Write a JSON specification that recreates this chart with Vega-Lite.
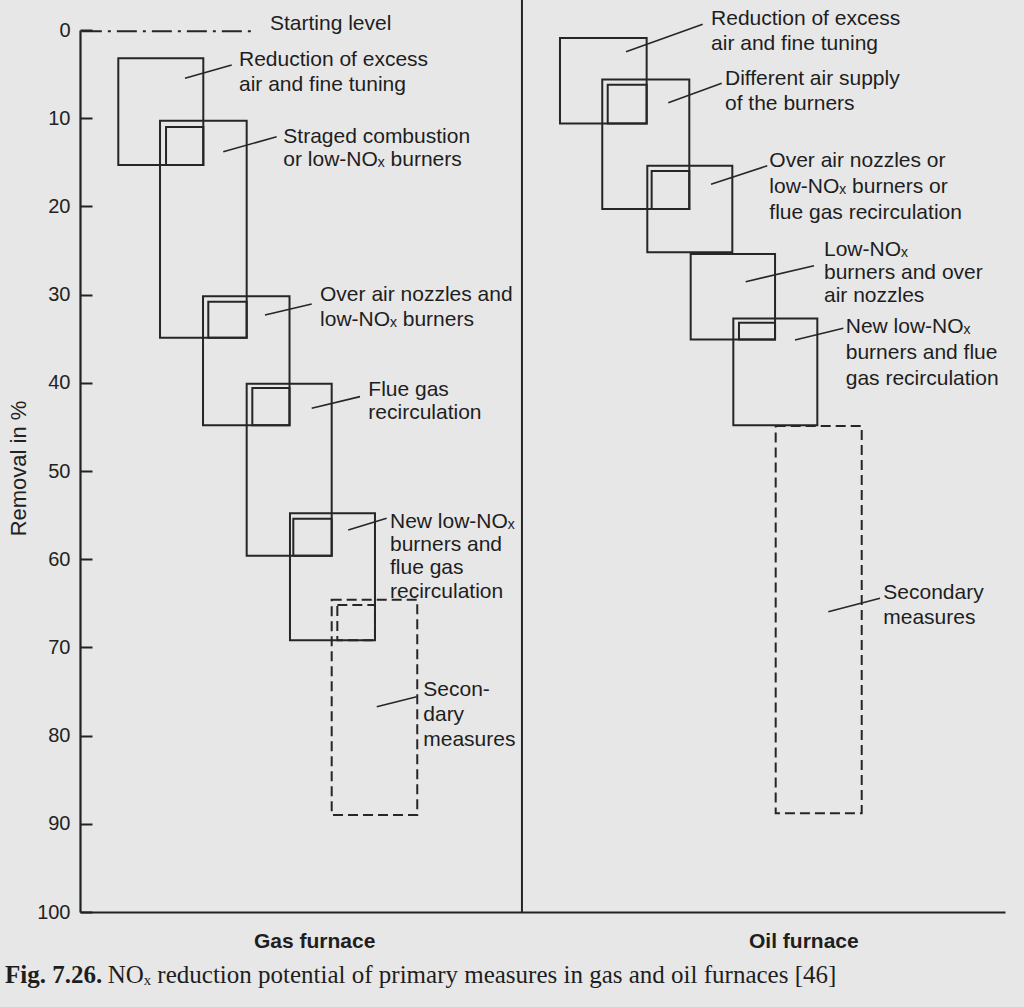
{
  "$schema": "https://vega.github.io/schema/vega-lite/v6.json",
  "autosize": {"type": "none"},
  "width": 925,
  "height": 882,
  "padding": {"left": 80, "top": 30, "right": 19, "bottom": 95},
  "background": "#e7e7e7",
  "config": {
    "view": {"stroke": null},
    "font": "Liberation Sans",
    "axis": {"grid": false, "domainColor": "#222222", "domainWidth": 2.2, "tickColor": "#222222", "tickWidth": 2, "labelColor": "#222222", "titleColor": "#222222", "labelFont": "Liberation Sans", "titleFont": "Liberation Sans"}
  },
  "datasets": {
    "boxes": [
      {"furnace": "Gas", "measure": "Reduction of excess air and fine tuning", "line": "solid", "x": 4.14, "x2": 13.33, "y": 3.2, "y2": 15.3},
      {"furnace": "Gas", "measure": "Straged combustion or low-NOx burners", "line": "solid", "x": 8.65, "x2": 18.02, "y": 10.3, "y2": 34.9},
      {"furnace": "Gas", "measure": "Straged combustion (overlap)", "line": "solid", "x": 9.3, "x2": 13.33, "y": 11.0, "y2": 15.3},
      {"furnace": "Gas", "measure": "Over air nozzles and low-NOx burners", "line": "solid", "x": 13.3, "x2": 22.65, "y": 30.2, "y2": 44.8},
      {"furnace": "Gas", "measure": "Over air nozzles (overlap)", "line": "solid", "x": 13.87, "x2": 18.02, "y": 30.8, "y2": 34.9},
      {"furnace": "Gas", "measure": "Flue gas recirculation", "line": "solid", "x": 18.02, "x2": 27.21, "y": 40.1, "y2": 59.6},
      {"furnace": "Gas", "measure": "Flue gas recirculation (overlap)", "line": "solid", "x": 18.63, "x2": 22.65, "y": 40.6, "y2": 44.8},
      {"furnace": "Gas", "measure": "New low-NOx burners and flue gas recirculation", "line": "solid", "x": 22.7, "x2": 31.89, "y": 54.8, "y2": 69.2},
      {"furnace": "Gas", "measure": "New low-NOx burners (overlap)", "line": "solid", "x": 23.06, "x2": 27.21, "y": 55.4, "y2": 59.6},
      {"furnace": "Gas", "measure": "Secondary measures", "line": "dashed", "x": 27.21, "x2": 36.46, "y": 64.6, "y2": 89.0},
      {"furnace": "Gas", "measure": "Secondary measures (overlap)", "line": "dashed", "x": 27.82, "x2": 31.89, "y": 65.2, "y2": 69.2},
      {"furnace": "Oil", "measure": "Reduction of excess air and fine tuning", "line": "solid", "x": 51.89, "x2": 61.26, "y": 0.9, "y2": 10.6},
      {"furnace": "Oil", "measure": "Different air supply of the burners", "line": "solid", "x": 56.46, "x2": 65.87, "y": 5.6, "y2": 20.3},
      {"furnace": "Oil", "measure": "Different air supply (overlap)", "line": "solid", "x": 57.05, "x2": 61.26, "y": 6.2, "y2": 10.6},
      {"furnace": "Oil", "measure": "Over air nozzles or low-NOx burners or flue gas recirculation", "line": "solid", "x": 61.33, "x2": 70.52, "y": 15.4, "y2": 25.2},
      {"furnace": "Oil", "measure": "Over air nozzles or (overlap)", "line": "solid", "x": 61.8, "x2": 65.87, "y": 16.0, "y2": 20.3},
      {"furnace": "Oil", "measure": "Low-NOx burners and over air nozzles", "line": "solid", "x": 66.02, "x2": 75.14, "y": 25.4, "y2": 35.1},
      {"furnace": "Oil", "measure": "New low-NOx burners and flue gas recirculation", "line": "solid", "x": 70.63, "x2": 79.71, "y": 32.7, "y2": 44.8},
      {"furnace": "Oil", "measure": "New low-NOx burners (overlap)", "line": "solid", "x": 71.24, "x2": 75.14, "y": 33.2, "y2": 35.1},
      {"furnace": "Oil", "measure": "Secondary measures", "line": "dashed", "x": 75.21, "x2": 84.51, "y": 44.9, "y2": 88.8}
    ],
    "leaders": [
      {"x": 11.35, "y": 5.48, "x2": 16.4, "y2": 3.97},
      {"x": 15.49, "y": 13.8, "x2": 21.26, "y2": 12.1},
      {"x": 20.0, "y": 32.31, "x2": 25.05, "y2": 31.07},
      {"x": 25.05, "y": 42.89, "x2": 30.27, "y2": 41.57},
      {"x": 29.0, "y": 56.69, "x2": 33.15, "y2": 55.36},
      {"x": 32.08, "y": 76.72, "x2": 36.4, "y2": 75.59},
      {"x": 59.03, "y": 2.46, "x2": 67.32, "y2": -0.65},
      {"x": 63.6, "y": 8.24, "x2": 69.37, "y2": 6.04},
      {"x": 68.22, "y": 17.49, "x2": 74.3, "y2": 15.39},
      {"x": 71.97, "y": 28.54, "x2": 79.35, "y2": 26.72},
      {"x": 77.3, "y": 35.15, "x2": 82.52, "y2": 33.82},
      {"x": 80.9, "y": 65.95, "x2": 86.49, "y2": 64.43}
    ],
    "labels": [
      {"label": "Starting level", "x": 20.54, "y": -0.68},
      {"label": "Reduction of excess", "x": 17.19, "y": 3.4},
      {"label": "air and fine tuning", "x": 17.19, "y": 6.24},
      {"label": "Straged combustion", "x": 21.98, "y": 12.1},
      {"label": "or low-NOₓ burners", "x": 21.98, "y": 14.74},
      {"label": "Over air nozzles and", "x": 25.95, "y": 30.05},
      {"label": "low-NOₓ burners", "x": 25.95, "y": 32.88},
      {"label": "Flue gas", "x": 31.17, "y": 40.82},
      {"label": "recirculation", "x": 31.17, "y": 43.46},
      {"label": "New low-NOₓ", "x": 33.51, "y": 55.75},
      {"label": "burners and", "x": 33.51, "y": 58.39},
      {"label": "flue gas", "x": 33.51, "y": 61.0},
      {"label": "recirculation", "x": 33.51, "y": 63.68},
      {"label": "Secon-", "x": 37.11, "y": 74.83},
      {"label": "dary", "x": 37.11, "y": 77.66},
      {"label": "measures", "x": 37.11, "y": 80.5},
      {"label": "Reduction of excess", "x": 68.22, "y": -1.21},
      {"label": "air and fine tuning", "x": 68.22, "y": 1.62},
      {"label": "Different air supply", "x": 69.73, "y": 5.56},
      {"label": "of the burners", "x": 69.73, "y": 8.39},
      {"label": "Over air nozzles or", "x": 74.52, "y": 14.85},
      {"label": "low-NOₓ burners or", "x": 74.52, "y": 17.83},
      {"label": "flue gas recirculation", "x": 74.52, "y": 20.71},
      {"label": "Low-NOₓ", "x": 80.43, "y": 24.94},
      {"label": "burners and over", "x": 80.43, "y": 27.52},
      {"label": "air nozzles", "x": 80.43, "y": 30.12},
      {"label": "New low-NOₓ", "x": 82.78, "y": 33.64},
      {"label": "burners and flue", "x": 82.78, "y": 36.66},
      {"label": "gas recirculation", "x": 82.78, "y": 39.57},
      {"label": "Secondary", "x": 86.84, "y": 63.87},
      {"label": "measures", "x": 86.84, "y": 66.7}
    ],
    "furnaces": [
      {"label": "Gas furnace", "x": 25.37, "y": 103.37},
      {"label": "Oil furnace", "x": 78.25, "y": 103.37}
    ]
  },
  "layer": [
    {
      "data": {"name": "boxes"},
      "transform": [{"filter": "datum.line === 'solid'"}],
      "mark": {"type": "rect", "fill": null, "stroke": "#262626", "strokeWidth": 2},
      "encoding": {
        "x": {"field": "x", "type": "quantitative", "scale": {"domain": [0, 100], "nice": false, "zero": false}, "axis": {"title": null, "labels": false, "ticks": false, "domain": true, "orient": "bottom"}},
        "x2": {"field": "x2"},
        "y": {"field": "y", "type": "quantitative", "scale": {"domain": [0, 100], "reverse": true, "nice": false}, "axis": {"title": "Removal in %", "values": [0, 10, 20, 30, 40, 50, 60, 70, 80, 90, 100], "tickSize": -12, "labelPadding": 22, "labelFontSize": 20, "labelFontWeight": "normal", "titleFontSize": 22, "titleFontWeight": "normal", "titleX": -62, "titleY": 438, "titleAngle": -90, "titleAlign": "center", "titleBaseline": "middle"}},
        "y2": {"field": "y2"}
      }
    },
    {
      "data": {"name": "boxes"},
      "transform": [{"filter": "datum.line === 'dashed'"}],
      "mark": {"type": "rect", "fill": null, "stroke": "#262626", "strokeWidth": 2, "strokeDash": [10, 5]},
      "encoding": {
        "x": {"field": "x", "type": "quantitative"},
        "x2": {"field": "x2"},
        "y": {"field": "y", "type": "quantitative"},
        "y2": {"field": "y2"}
      }
    },
    {
      "data": {"name": "leaders"},
      "mark": {"type": "rule", "stroke": "#262626", "strokeWidth": 1.6},
      "encoding": {
        "x": {"field": "x", "type": "quantitative"},
        "y": {"field": "y", "type": "quantitative"},
        "x2": {"field": "x2"},
        "y2": {"field": "y2"}
      }
    },
    {
      "data": {"values": [{"x": 0.2, "x2": 18.67, "y": 0.15}]},
      "mark": {"type": "rule", "stroke": "#262626", "strokeWidth": 2, "strokeDash": [20, 6, 3, 6]},
      "encoding": {
        "x": {"field": "x", "type": "quantitative"},
        "x2": {"field": "x2"},
        "y": {"field": "y", "type": "quantitative"}
      }
    },
    {
      "data": {"values": [{"x": 47.78, "y": -3.4, "y2": 100}]},
      "mark": {"type": "rule", "stroke": "#262626", "strokeWidth": 2},
      "encoding": {
        "x": {"field": "x", "type": "quantitative"},
        "y": {"field": "y", "type": "quantitative"},
        "y2": {"field": "y2"}
      }
    },
    {
      "data": {"name": "labels"},
      "mark": {"type": "text", "align": "left", "baseline": "middle", "font": "Liberation Sans", "fontSize": 21, "color": "#1e1e1e"},
      "encoding": {
        "x": {"field": "x", "type": "quantitative"},
        "y": {"field": "y", "type": "quantitative"},
        "text": {"field": "label"}
      }
    },
    {
      "data": {"name": "furnaces"},
      "mark": {"type": "text", "align": "center", "baseline": "middle", "font": "Liberation Sans", "fontSize": 21, "fontWeight": "bold", "color": "#1e1e1e"},
      "encoding": {
        "x": {"field": "x", "type": "quantitative"},
        "y": {"field": "y", "type": "quantitative"},
        "text": {"field": "label"}
      }
    },
    {
      "data": {"values": [{"label": "Fig. 7.26.", "x": -8.1, "y": 108.05}]},
      "mark": {"type": "text", "align": "left", "baseline": "alphabetic", "font": "Liberation Serif", "fontSize": 25, "fontWeight": "bold", "color": "#1e1e1e"},
      "encoding": {
        "x": {"field": "x", "type": "quantitative"},
        "y": {"field": "y", "type": "quantitative"},
        "text": {"field": "label"}
      }
    },
    {
      "data": {"values": [{"label": "NOₓ reduction potential of primary measures in gas and oil furnaces [46]", "x": 3.0, "y": 108.05}]},
      "mark": {"type": "text", "align": "left", "baseline": "alphabetic", "font": "Liberation Serif", "fontSize": 25, "color": "#1e1e1e"},
      "encoding": {
        "x": {"field": "x", "type": "quantitative"},
        "y": {"field": "y", "type": "quantitative"},
        "text": {"field": "label"}
      }
    }
  ]
}
